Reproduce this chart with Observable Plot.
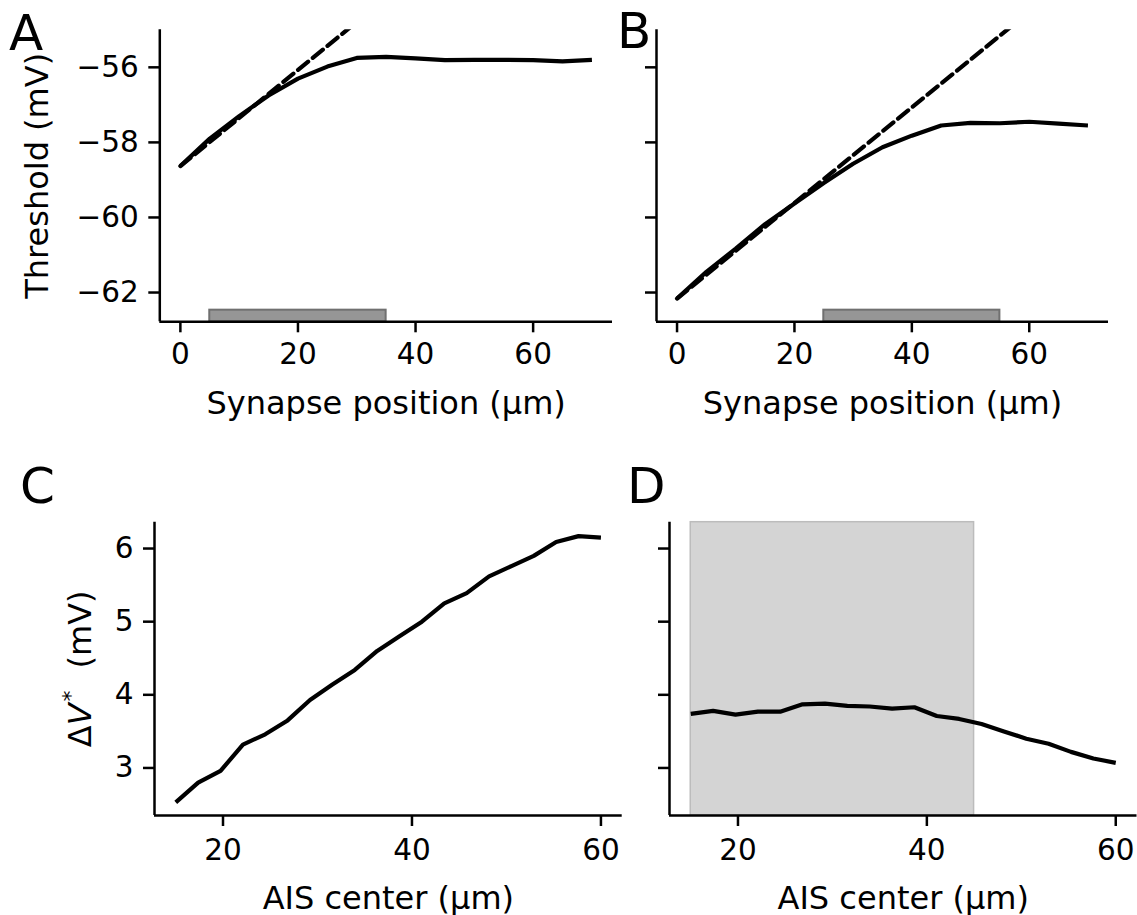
<!DOCTYPE html>
<html><head><meta charset="utf-8">
<script src="https://cdn.jsdelivr.net/npm/d3@7"></script>
<script src="https://cdn.jsdelivr.net/npm/@observablehq/plot@0.6"></script>
<style>
body{margin:0;background:#fff;}
#fig{position:relative;width:1137px;height:915px;background:#fff;overflow:hidden;font-family:"DejaVu Sans";}
.panel{position:absolute;}
.letter{position:absolute;font-size:50px;line-height:50px;font-family:"DejaVu Sans";color:#000;}
svg [aria-label="x-axis label"], svg [aria-label="y-axis label"]{font-size:32px;}
</style></head><body><div id="fig"></div>
<script>
// ---------- data ----------
const synapsePos = [0,5,10,15,20,25,30,35,40,45,50,55,60,65,70];
const thresholdA = [-58.63,-57.9,-57.3,-56.75,-56.3,-55.98,-55.75,-55.72,-55.76,-55.81,-55.8,-55.8,-55.81,-55.84,-55.8];
const thresholdB = [-62.16,-61.45,-60.83,-60.18,-59.63,-59.08,-58.57,-58.13,-57.82,-57.55,-57.48,-57.49,-57.45,-57.5,-57.55];
const linearA_x = [0, 30];
const linearA_y = [-58.63, -54.79];
const linearB_x = [0, 60];
const linearB_y = [-62.16, -54.52];
const aisA = [5, 35];
const aisB = [25, 55];
const aisBarTop = -62.47;

const aisCenter = [15,17.37,19.74,22.11,24.47,26.84,29.21,31.58,33.95,36.32,38.68,41.05,43.42,45.79,48.16,50.53,52.89,55.26,57.63,60];
const deltaVC = [2.53,2.80,2.96,3.32,3.46,3.65,3.93,4.14,4.34,4.60,4.80,5.00,5.25,5.39,5.62,5.76,5.90,6.09,6.17,6.15];
const deltaVD = [3.74,3.78,3.73,3.77,3.77,3.87,3.88,3.85,3.84,3.81,3.83,3.71,3.67,3.60,3.50,3.40,3.33,3.22,3.13,3.07];
const aisD = [15, 45];

const xTicksAB = [0,20,40,60];
const yTicksAB = [-62,-60,-58,-56];
const xTicksCD = [20,40,60];
const yTicksCD = [3,4,5,6];
const xDomainAB = [-3.5, 73.5];
const yDomainAB = [-62.78, -55];
const xDomainCD = [12.75, 62.25];
const yDomainCD = [2.35, 6.36];

const xLabelAB = "Synapse position (µm)";
const xLabelCD = "AIS center (µm)";
const yLabelA = "Threshold (mV)";
const yLabelC = "ΔV* (mV)";

// ---------- helpers ----------
const fmt = d => d < 0 ? "\u2212" + Math.abs(d) : String(d);
const fig = document.getElementById("fig");

function panel(o) {
  const p = Plot.plot({
    width: o.w, height: o.h,
    marginLeft: o.ml, marginRight: o.mr, marginTop: o.mt, marginBottom: o.mb,
    style: {fontFamily: "DejaVu Sans", fontSize: "29.5px", color: "#000", background: "transparent", overflow: "visible"},
    x: {domain: o.xDomain},
    y: {domain: o.yDomain},
    marks: [
      ...o.under,
      Plot.ruleX([o.xDomain[0]], {stroke: "#000", strokeWidth: 2.5}),
      Plot.ruleY([o.yDomain[0]], {stroke: "#000", strokeWidth: 2.5}),
      ...o.over,
      Plot.axisX(o.xTicks, {tickSize: 11, tickPadding: o.xPad, strokeWidth: 2.5, tickFormat: fmt,
        label: o.xLabel, labelAnchor: "center", labelArrow: false, labelOffset: o.xLabelOffset}),
      Plot.axisY(o.yTicks, {tickSize: 11, tickPadding: 10, strokeWidth: 2.5,
        tickFormat: o.showY ? fmt : () => "",
        label: o.yLabel, labelAnchor: "center", labelArrow: false, labelOffset: o.yLabelOffset})
    ]
  });
  const div = document.createElement("div");
  div.className = "panel";
  div.style.left = o.left + "px";
  div.style.top = o.top + "px";
  div.appendChild(p);
  fig.appendChild(div);
  return p;
}

function letter(ch, left, top) {
  const d = document.createElement("div");
  d.className = "letter";
  d.textContent = ch;
  d.style.left = left + "px";
  d.style.top = top + "px";
  fig.appendChild(d);
}

const solid = {stroke: "#000", strokeWidth: 4.2, strokeLinejoin: "round", strokeLinecap: "butt"};
const dashed = {stroke: "#000", strokeWidth: 4.2, strokeDasharray: "13,6", clip: true};

// ---------- panel A ----------
panel({
  left: 0, top: 0, w: 620, h: 440, ml: 159.3, mr: 8, mt: 29.3, mb: 118.7,
  xDomain: xDomainAB, yDomain: yDomainAB, xTicks: xTicksAB, yTicks: yTicksAB,
  xLabel: xLabelAB, yLabel: yLabelA, showY: true, xPad: 10, xLabelOffset: 92, yLabelOffset: 135,
  under: [
    Plot.rect([0], {x1: () => aisA[0], x2: () => aisA[1], y1: () => yDomainAB[0], y2: () => aisBarTop,
      fill: "#969696", stroke: "#707070", strokeWidth: 2})
  ],
  over: [
    Plot.line(linearA_x, {x: d => d, y: (d, i) => linearA_y[i], ...dashed}),
    Plot.line(synapsePos, {x: d => d, y: (d, i) => thresholdA[i], ...solid})
  ]
});

// ---------- panel B ----------
panel({
  left: 620, top: 0, w: 517, h: 440, ml: 36, mr: 29, mt: 29.3, mb: 118.7,
  xDomain: xDomainAB, yDomain: yDomainAB, xTicks: xTicksAB, yTicks: yTicksAB,
  xLabel: xLabelAB, yLabel: null, showY: false, xPad: 10, xLabelOffset: 92, yLabelOffset: 0,
  under: [
    Plot.rect([0], {x1: () => aisB[0], x2: () => aisB[1], y1: () => yDomainAB[0], y2: () => aisBarTop,
      fill: "#969696", stroke: "#707070", strokeWidth: 2})
  ],
  over: [
    Plot.line(linearB_x, {x: d => d, y: (d, i) => linearB_y[i], ...dashed}),
    Plot.line(synapsePos, {x: d => d, y: (d, i) => thresholdB[i], ...solid})
  ]
});

// ---------- panel C ----------
const pC = panel({
  left: 0, top: 440, w: 630, h: 475, ml: 154, mr: 8.3, mt: 81.7, mb: 100,
  xDomain: xDomainCD, yDomain: yDomainCD, xTicks: xTicksCD, yTicks: yTicksCD,
  xLabel: xLabelCD, yLabel: yLabelC, showY: true, xPad: 13, xLabelOffset: 93, yLabelOffset: 86,
  under: [],
  over: [
    Plot.line(aisCenter, {x: d => d, y: (d, i) => deltaVC[i], ...solid})
  ]
});

// ---------- panel D ----------
panel({
  left: 630, top: 440, w: 507, h: 475, ml: 39, mr: 0.5, mt: 81.7, mb: 100,
  xDomain: xDomainCD, yDomain: yDomainCD, xTicks: xTicksCD, yTicks: yTicksCD,
  xLabel: xLabelCD, yLabel: null, showY: false, xPad: 13, xLabelOffset: 93, yLabelOffset: 0,
  under: [
    Plot.rect([0], {x1: () => aisD[0], x2: () => aisD[1], y1: () => yDomainCD[0], y2: () => yDomainCD[1],
      fill: "#d4d4d4", stroke: "#bcbcbc", strokeWidth: 1.5})
  ],
  over: [
    Plot.line(aisCenter, {x: d => d, y: (d, i) => deltaVD[i], ...solid})
  ]
});

// mathtext-like y label for C: ΔV^* (mV)
(function () {
  const t = pC.querySelector('[aria-label="y-axis label"] text');
  if (!t) return;
  const ns = "http://www.w3.org/2000/svg";
  t.textContent = "";
  const add = (s, attrs) => {
    const ts = document.createElementNS(ns, "tspan");
    ts.textContent = s;
    for (const k in attrs || {}) ts.setAttribute(k, attrs[k]);
    t.appendChild(ts);
  };
  add("Δ");
  add("V", {"font-style": "italic"});
  add("*", {"font-size": "22px", dy: "-13", dx: "2"});
  add("(mV)", {dy: "13", dx: "22"});
})();

letter("A", 9, 8);
letter("B", 617, 6);
letter("C", 20, 461);
letter("D", 627, 461);
</script></body></html>
